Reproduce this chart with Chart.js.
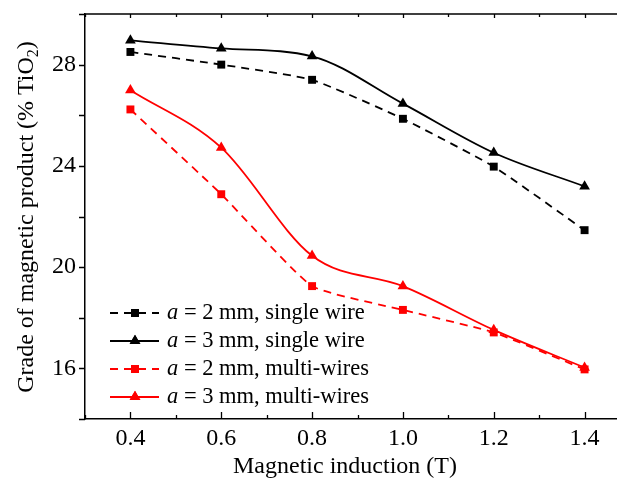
<!DOCTYPE html>
<html>
<head>
<meta charset="utf-8">
<script src="https://cdn.jsdelivr.net/npm/chart.js@4.4.1/dist/chart.umd.min.js"></script>
<style>
  html, body { margin: 0; padding: 0; background: #fff; overflow: hidden; }
  #wrap { width: 617px; height: 484px; overflow: hidden; }
</style>
</head>
<body>
<div id="wrap"><canvas id="grade" width="640" height="484"></canvas></div>
<script>
// Magnetic induction (T) vs. grade of magnetic product (% TiO2)
const induction = [0.4, 0.6, 0.8, 1.0, 1.2, 1.4];
const single2mm = [28.5, 28.0, 27.4, 25.86, 23.97, 21.46];
const single3mm = [28.96, 28.64, 28.33, 26.46, 24.52, 23.19];
const multi2mm = [26.23, 22.88, 19.25, 18.31, 17.42, 15.96];
const multi3mm = [26.99, 24.72, 20.45, 19.25, 17.52, 16.03];

const xTickValues = [0.4, 0.6, 0.8, 1.0, 1.2, 1.4];
const yTickValues = [16, 20, 24, 28];

const legendNames = [
  { size: "2 mm", kind: "single wire" },
  { size: "3 mm", kind: "single wire" },
  { size: "2 mm", kind: "multi-wires" },
  { size: "3 mm", kind: "multi-wires" },
];

const SERIF = "'Liberation Serif', 'Times New Roman', serif";
const RED = "#ff0000";

const pts = (ys) => induction.map((x, i) => ({ x, y: ys[i] }));

function series(ys, color, dashed, shape) {
  return {
    data: pts(ys),
    borderColor: color,
    backgroundColor: color,
    borderWidth: 1.8,
    borderDash: dashed ? [8, 6] : [],
    pointStyle: shape,
    pointRadius: shape === "rect" ? 5.6 : 6.2,
    pointBorderWidth: 0,
    tension: dashed ? 0.15 : 0,
    cubicInterpolationMode: dashed ? "default" : "monotone",
  };
}

// Origin-style frame: inward ticks on the bottom/top, outward ticks on the left
const frameTicks = {
  id: "frameTicks",
  afterDatasetsDraw(chart) {
    const { ctx, chartArea: a, scales } = chart;
    const xs = scales.x, ys = scales.y;
    ctx.save();
    ctx.strokeStyle = "#000";
    ctx.lineWidth = 1.3;
    ctx.beginPath();
    // top border
    ctx.moveTo(a.left, a.top);
    ctx.lineTo(chart.width, a.top);
    for (let i = 3; i <= 15; i++) {
      const px = Math.round(xs.getPixelForValue(i / 10)) + 0.5;
      const major = i % 2 === 0;
      ctx.moveTo(px, a.bottom);
      ctx.lineTo(px, a.bottom - (major ? 7 : 4));
      ctx.moveTo(px, a.top);
      ctx.lineTo(px, a.top + (major ? 4 : 3));
    }
    for (let v = 14; v <= 30; v += 2) {
      const py = Math.round(ys.getPixelForValue(v)) + 0.5;
      ctx.moveTo(a.left, py);
      ctx.lineTo(a.left - 6, py);
    }
    ctx.stroke();
    ctx.restore();
  },
};

// Legend inside the plot, lower left, with italic "a"
const insideLegend = {
  id: "insideLegend",
  afterDatasetsDraw(chart) {
    const { ctx } = chart;
    const rowY = [313, 341, 369, 397];
    ctx.save();
    chart.data.datasets.forEach((ds, i) => {
      const y = rowY[i];
      ctx.strokeStyle = ds.borderColor;
      ctx.lineWidth = ds.borderWidth;
      ctx.setLineDash(ds.borderDash);
      ctx.beginPath();
      ctx.moveTo(110, y);
      ctx.lineTo(159, y);
      ctx.stroke();
      ctx.setLineDash([]);
      ctx.fillStyle = ds.backgroundColor;
      Chart.helpers.drawPoint(ctx, {
        pointStyle: ds.pointStyle,
        radius: ds.pointRadius,
        borderWidth: 0,
      }, 135, y);
      ctx.fill();

      ctx.fillStyle = "#000";
      ctx.textBaseline = "middle";
      ctx.font = "italic 22.5px " + SERIF;
      ctx.fillText("a", 167, y);
      const w = ctx.measureText("a").width;
      ctx.font = "22.5px " + SERIF;
      const name = legendNames[i];
      ctx.fillText(" = " + name.size + ", " + name.kind, 167 + w, y);
    });
    ctx.restore();
  },
};

// Axis titles (y title carries a subscript)
const axisTitles = {
  id: "axisTitles",
  afterDraw(chart) {
    const { ctx } = chart;
    ctx.save();
    ctx.fillStyle = "#000";
    ctx.font = "24px " + SERIF;
    ctx.textAlign = "center";
    ctx.textBaseline = "middle";
    ctx.fillText("Magnetic induction (T)", 345, 467);

    ctx.translate(27, 217);
    ctx.rotate(-Math.PI / 2);
    const main = "Grade of magnetic product (% TiO";
    ctx.font = "24px " + SERIF;
    const wMain = ctx.measureText(main).width;
    ctx.font = "16px " + SERIF;
    const wSub = ctx.measureText("2").width;
    ctx.font = "24px " + SERIF;
    const wEnd = ctx.measureText(")").width;
    let x = -(wMain + wSub + wEnd) / 2;
    ctx.textAlign = "left";
    ctx.fillText(main, x, 0);
    x += wMain;
    ctx.font = "16px " + SERIF;
    ctx.fillText("2", x, 7);
    x += wSub;
    ctx.font = "24px " + SERIF;
    ctx.fillText(")", x, 0);
    ctx.restore();
  },
};

new Chart(document.getElementById("grade"), {
  type: "line",
  data: {
    datasets: [
      series(single2mm, "#000", true, "rect"),
      series(single3mm, "#000", false, "triangle"),
      series(multi2mm, RED, true, "rect"),
      series(multi3mm, RED, false, "triangle"),
    ],
  },
  options: {
    responsive: false,
    animation: false,
    layout: { padding: { top: 14, right: 10, left: 0, bottom: 0 } },
    plugins: { legend: { display: false }, tooltip: { enabled: false } },
    scales: {
      x: {
        type: "linear",
        min: 0.3,
        max: 1.5,
        afterFit: (s) => { s.height = 65; s.paddingLeft = 0; s.paddingRight = 0; },
        afterBuildTicks: (s) => { s.ticks = xTickValues.map((value) => ({ value })); },
        ticks: {
          color: "#000",
          font: { family: SERIF, size: 24 },
          padding: 5,
          maxRotation: 0,
          callback: (v) => Number(v).toFixed(1),
        },
        grid: { display: false, drawTicks: false },
        border: { display: true, color: "#000", width: 1.5 },
      },
      y: {
        min: 14,
        max: 30,
        afterFit: (s) => { s.width = 85; s.paddingTop = 0; s.paddingBottom = 0; },
        afterBuildTicks: (s) => { s.ticks = yTickValues.map((value) => ({ value })); },
        ticks: {
          color: "#000",
          font: { family: SERIF, size: 24 },
          padding: 9,
          callback: (v) => String(v),
        },
        grid: { display: false, drawTicks: false },
        border: { display: true, color: "#000", width: 1.5 },
      },
    },
  },
  plugins: [frameTicks, insideLegend, axisTitles],
});
</script>
</body>
</html>
